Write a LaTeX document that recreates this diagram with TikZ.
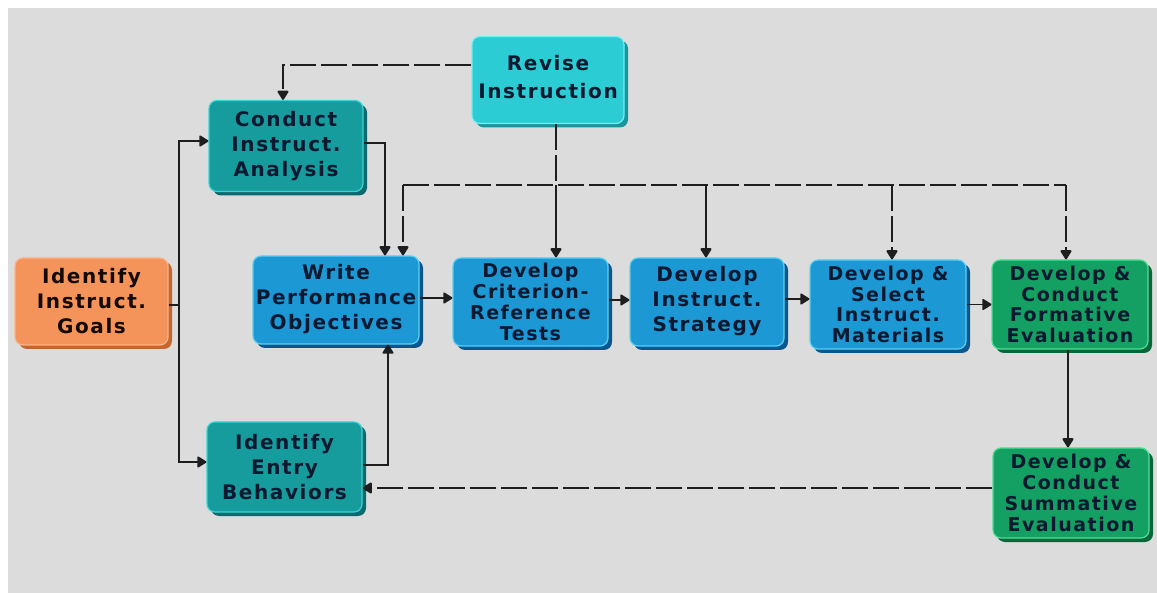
\documentclass[tikz,border=0pt]{standalone}
\usepackage{fontspec}
\newfontfamily\boxfont[LetterSpace=8]{DejaVu Sans}
\usetikzlibrary{shadows,arrows.meta,positioning}
\definecolor{bgc}{HTML}{DCDCDC}
\definecolor{linec}{HTML}{1E1E1E}
\definecolor{txt}{HTML}{0A1830}
\definecolor{orangef}{HTML}{F4945A}\definecolor{oranges}{HTML}{C4672E}\definecolor{orangeh}{HTML}{FBB38A}
\definecolor{tealf}{HTML}{179C9E}\definecolor{teals}{HTML}{0C6A6E}\definecolor{tealh}{HTML}{38D4D8}
\definecolor{cyanf}{HTML}{2CCCD4}\definecolor{cyans}{HTML}{16969C}\definecolor{cyanh}{HTML}{6EF0F4}
\definecolor{bluef}{HTML}{1C98D4}\definecolor{blues}{HTML}{0A5790}\definecolor{blueh}{HTML}{5CD0F4}
\definecolor{greenf}{HTML}{14A062}\definecolor{greens}{HTML}{08663A}\definecolor{greenh}{HTML}{4CE094}
\tikzset{
  box/.style args={#1/#2/#3}{rectangle, rounded corners=8pt, fill=#1, draw=#3, line width=1.2pt,
    drop shadow={shadow xshift=4pt, shadow yshift=-4pt, fill=#2, opacity=1},
    align=center, inner sep=0pt, text=txt,
    font=\boxfont\bfseries\fontsize{20}{25}\selectfont},
  four/.style={font=\boxfont\bfseries\fontsize{19}{20.8}\selectfont},
  conn/.style={draw=linec, line width=1.8pt},
  tip/.tip={Triangle[length=10pt,width=12pt,round]},
  arr/.style={conn, -tip},
  dline/.style={conn, dash pattern=on 26pt off 5pt},
  darr/.style={dline, -tip},
}
\begin{document}
\begin{tikzpicture}[x=1pt,y=-1pt]
\useasboundingbox (0,0) rectangle (1157,593);
\fill[white] (0,0) rectangle (1157,593);
\fill[bgc] (8,8) rectangle (1157,593);

\node[box=cyanf/cyans/cyanh, minimum width=152pt, minimum height=87pt] (revise) at (548,80) {\raisebox{2pt}{\begin{tabular}{@{}c@{}}Revise\\[3pt]Instruction\end{tabular}}};
\node[box=tealf/teals/tealh, minimum width=154pt, minimum height=91pt] (conduct) at (286,146) {Conduct\\Instruct.\\Analysis};
\node[box=orangef/oranges/orangeh, minimum width=153pt, minimum height=87pt, text=black!85!orange!50!black] (goals) at (91.5,301.5) {Identify\\Instruct.\\Goals};
\node[box=bluef/blues/blueh, minimum width=166pt, minimum height=88pt] (write) at (336,300) {\raisebox{6pt}{\begin{tabular}{@{}c@{}}Write\\Performance\\Objectives\end{tabular}}};
\node[box=tealf/teals/tealh, minimum width=155pt, minimum height=90pt] (entry) at (284.5,467) {Identify\\Entry\\Behaviors};
\node[box=bluef/blues/blueh, four, minimum width=155pt, minimum height=88pt] (crit) at (530.5,302) {Develop\\Criterion-\\Reference\\Tests};
\node[box=bluef/blues/blueh, minimum width=154pt, minimum height=88pt] (strat) at (707,302) {\raisebox{6pt}{\begin{tabular}{@{}c@{}}Develop\\Instruct.\\Strategy\end{tabular}}};
\node[box=bluef/blues/blueh, four, minimum width=156pt, minimum height=89pt] (mat) at (888,304.5) {Develop \&\\Select\\Instruct.\\Materials};
\node[box=greenf/greens/greenh, four, minimum width=156pt, minimum height=89pt] (form) at (1070,304.5) {Develop \&\\Conduct\\Formative\\Evaluation};
\node[box=greenf/greens/greenh, four, minimum width=156pt, minimum height=90pt] (summ) at (1071,493) {Develop \&\\Conduct\\Summative\\Evaluation};

% feedback bus
\coordinate (jW) at (403,185);
\coordinate (jC) at (556,185);
\coordinate (jS) at (706,185);
\coordinate (jM) at (892,185);
\coordinate (jF) at (1066,185);
\coordinate (gx) at (179,305);

% revise to conduct
\draw[darr] ([yshift=15pt]revise.west) -| ([xshift=-3pt]conduct.north);
% revise down to bus
\draw[dline] ([xshift=8pt]revise.south) -- (jC);
\draw[dline] (jW) -- (jF);
\draw[darr] (jW) -- (jW |- write.north);
\draw[arr] (jC) -- (jC |- crit.north);
\draw[arr] (jS) -- (jS |- strat.north);
\draw[darr] (jM) -- (jM |- mat.north);
\draw[darr] (jF) -- (jF |- form.north);

% goals to analysis and entry
\draw[conn] (goals.east |- gx) -- (gx);
\draw[arr] (gx) |- ([yshift=5pt]conduct.west);
\draw[arr] (gx) |- ([yshift=5pt]entry.west);

% analysis to write
\draw[arr] ([yshift=3pt]conduct.east) -| ([xshift=49pt]write.north);
% entry to write
\draw[arr] ([yshift=2pt]entry.east) -| ([xshift=52pt]write.south);

% main chain
\draw[arr] ([yshift=2pt]write.east) -- ([yshift=2pt]write.east -| crit.west);
\draw[arr] ([yshift=2pt]crit.east) -- ([yshift=2pt]crit.east -| strat.west);
\draw[arr] ([yshift=3pt]strat.east) -- ([yshift=3pt]strat.east -| mat.west);
\draw[arr] (mat.east) -- (mat.east -| form.west);
\draw[arr] ([xshift=-2pt]form.south) -- ([xshift=-2pt]form.south |- summ.north);

% summative back to entry
\draw[darr] ([yshift=5pt]summ.west) -- ([yshift=5pt]summ.west -| entry.east);
\end{tikzpicture}
\end{document}
